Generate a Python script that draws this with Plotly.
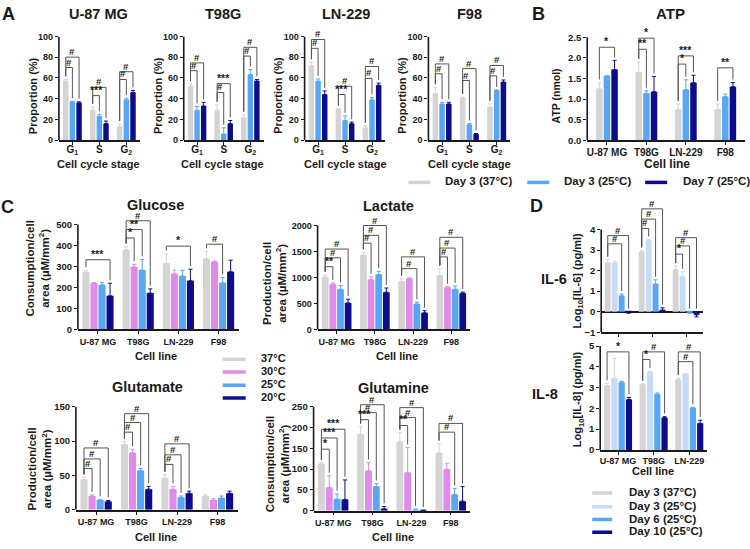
import plotly.graph_objects as go

W, H = 750, 549
FONT = "Liberation Sans, Arial, Helvetica, sans-serif"
INK = "#1a1a1a"

# ---------------- categories / series ----------------
stages = ["G<sub>1</sub>", "S", "G<sub>2</sub>"]
cell_lines = ["U-87 MG", "T98G", "LN-229", "F98"]
il_lines = ["U-87 MG", "T98G", "LN-229"]

ab_series = ["Day 3 (37°C)", "Day 3 (25°C)", "Day 7 (25°C)"]
c_series = ["37°C", "30°C", "25°C", "20°C"]
d_series = ["Day 3 (37°C)", "Day 3 (25°C)", "Day 6 (25°C)", "Day 10 (25°C)"]

ab_colors = ["#d4d4d4", "#58a6f6", "#0c0c8c"]
c_colors = ["#d4d4d4", "#e08ae9", "#58a6f6", "#0c0c8c"]
d_colors = ["#d4d4d4", "#c6dcf6", "#58a6f6", "#0c0c8c"]

# ---------------- Panel A: cell cycle proportion (%) [G1, S, G2] ----------------
u87_prop = [[57, 29, 13], [37, 23, 39], [36, 16, 46]]
u87_prop_err = [[1.5, 3, 2.5], [0.5, 2, 1.5], [1, 2.5, 2]]
t98g_prop = [[52, 29, 22], [29, 6, 63], [33, 16, 57]]
t98g_prop_err = [[2, 5, 2.5], [3.5, 6, 5], [3.5, 3, 1.5]]
ln229_prop = [[72, 30, 12], [57, 19, 39], [44, 16, 53]]
ln229_prop_err = [[3, 0.5, 2], [2, 4.5, 2], [3.5, 1.5, 2]]
f98_prop = [[45, 41, 32], [35, 15, 48], [35, 6, 56]]
f98_prop_err = [[6, 0.5, 3], [1.5, 1, 0.5], [1.5, 0.5, 2]]

# significance brackets: (group, bar_from, bar_to, level, label)
u87_sig = [(0, 0, 1, 70, "#"), (0, 0, 2, 80, "#"), (1, 0, 1, 43, "***"), (1, 0, 2, 51, "#"),
           (2, 0, 1, 58.5, "#"), (2, 0, 2, 66, "#")]
t98g_sig = [(0, 0, 1, 67, "#"), (0, 0, 2, 74.5, "#"), (1, 0, 1, 46, "#"), (1, 0, 2, 54.5, "***"),
            (2, 0, 1, 81, "#"), (2, 0, 2, 89.5, "#")]
ln229_sig = [(0, 0, 1, 88.5, "#"), (0, 0, 2, 97, "#"), (1, 0, 1, 44, "***"), (1, 0, 2, 52, "#"),
             (2, 0, 1, 59.5, "#"), (2, 0, 2, 71, "#")]
f98_sig = [(0, 0, 1, 64, "#"), (0, 0, 2, 73.5, "#"), (1, 0, 1, 57.5, "#"), (1, 0, 2, 69, "#"),
           (2, 0, 1, 62, "#"), (2, 0, 2, 72, "#")]

# ---------------- Panel B: ATP (nmol) ----------------
atp = [[1.25, 1.65, 0.75, 0.75], [1.56, 1.14, 1.23, 1.06], [1.72, 1.18, 1.40, 1.30]]
atp_err = [[0.15, 0.25, 0.13, 0.13], [0.01, 0.06, 0.24, 0.06], [0.22, 0.37, 0.18, 0.10]]
atp_sig = [(0, 0, 2, 2.26, "*"), (1, 0, 1, 2.21, "**"), (1, 0, 2, 2.48, "*"),
           (2, 0, 1, 1.85, "*"), (2, 0, 2, 2.05, "***"), (3, 0, 2, 1.76, "**")]

# ---------------- Panel C ----------------
glucose = [[272, 380, 315, 337], [220, 298, 265, 323], [212, 283, 255, 222], [160, 173, 232, 275]]
glucose_err = [[10, 15, 45, 35], [3, 12, 18, 3], [12, 50, 27, 25], [60, 20, 55, 55]]
glucose_sig = [(0, 0, 3, 332, "***"), (1, 0, 1, 436, "*"), (1, 0, 2, 476, "**"),
               (1, 0, 3, 518, "#"), (2, 0, 3, 397, "*"), (3, 0, 2, 406, "#")]

lactate = [[1010, 1434, 925, 1038], [868, 962, 981, 811], [774, 1057, 490, 774], [510, 717, 320, 698]]
lactate_err = [[40, 50, 50, 130], [25, 50, 10, 10], [70, 60, 30, 60], [70, 80, 40, 20]]
lactate_sig = [(0, 0, 1, 1207, "**"), (0, 0, 2, 1377, "#"), (0, 0, 3, 1547, "#"),
               (1, 0, 1, 1660, "#"), (1, 0, 2, 1811, "#"), (1, 0, 3, 2000, "#"),
               (2, 0, 2, 1170, "#"), (2, 0, 3, 1396, "#"),
               (3, 0, 1, 1396, "#"), (3, 0, 2, 1566, "#"), (3, 0, 3, 1773, "#")]

glutamate = [[44, 95, 46, 20], [20, 83, 30, 14], [14, 57, 18, 17], [12, 30, 24, 24]]
glutamate_err = [[3, 4, 5, 1.5], [1.5, 5, 4, 2], [1, 3, 2, 3], [1.5, 4, 3, 3]]
glutamate_sig = [(0, 0, 1, 60, "#"), (0, 0, 2, 74, "#"), (0, 0, 3, 90, "#"),
                 (1, 0, 1, 113, "#"), (1, 0, 2, 127, "#"), (1, 0, 3, 140, "#"),
                 (2, 0, 1, 66, "#"), (2, 0, 2, 80, "#"), (2, 0, 3, 96, "#")]

glutamine = [[113, 184, 166, 139], [56, 96, 92, 100], [28, 58, 2, 39], [27, 4, 0.5, 23]]
glutamine_err = [[2, 18, 22, 22], [28, 20, 60, 14], [12, 7, 2, 14], [47, 6, 0.5, 35]]
glutamine_sig = [(0, 0, 1, 148, "*"), (0, 0, 2, 175, "***"), (0, 0, 3, 196, "***"),
                 (1, 0, 1, 219, "***"), (1, 0, 2, 236, "#"), (1, 0, 3, 255, "#"),
                 (2, 0, 1, 205, "**"), (2, 0, 2, 224, "#"), (2, 0, 3, 248, "#"),
                 (3, 0, 2, 189, "#"), (3, 0, 3, 210, "#")]

# ---------------- Panel D: log10 cytokines ----------------
il6 = [[2.38, 2.90, 2.05], [2.38, 3.47, 1.72], [0.78, 1.35, -0.05], [-0.05, 0.07, -0.15]]
il6_err = [[0.15, 0.08, 0.18], [0.08, 0.04, 0.22], [0.08, 0.20, 0.03], [0.02, 0.12, 0.10]]
il6_sig = [(0, 0, 2, 3.3, "#"), (0, 0, 3, 3.7, "#"), (1, 0, 1, 4.05, "#"), (1, 0, 2, 4.5, "#"),
           (1, 0, 3, 5.0, "#"), (2, 0, 1, 2.8, "*"), (2, 0, 2, 3.2, "#"), (2, 0, 3, 3.6, "#")]

il8 = [[3.10, 3.15, 3.38], [3.45, 3.75, 3.65], [3.25, 2.68, 2.03], [2.43, 1.55, 1.28]]
il8_err = [[0.10, 0.03, 0.08], [0.95, 0.04, 0.03], [0.05, 0.06, 0.02], [0.10, 0.05, 0.15]]
il8_sig = [(0, 0, 3, 4.72, "*"), (1, 0, 1, 4.35, "*"), (1, 0, 3, 4.72, "#"),
           (2, 0, 2, 4.25, "#"), (2, 0, 3, 4.72, "#")]

# ---------------- helpers ----------------
fig = go.Figure()
axes_layout = {}
shapes = []
annotations = []
AXW = 1.6


def bold(size, color=INK):
    return dict(family=FONT, size=size, color=color, weight="bold")


def ann(xpx, ypx, text, size, angle=0, xanchor="center"):
    annotations.append(dict(xref="paper", yref="paper", x=xpx / W, y=1 - ypx / H, text=text,
                            showarrow=False, textangle=angle, xanchor=xanchor, yanchor="middle",
                            font=bold(size)))


def panel(idx, cats, vals, errs, colors, names, xpx, ypx, vscale, vtop, tickvals, bargap,
          groupgap, sig, xtick_size=9, ytick_size=9.5, tickformat=None, show_xlabels=True,
          zeroline=False, xstandoff=0):
    xa = "x" if idx == 1 else f"x{idx}"
    ya = "y" if idx == 1 else f"y{idx}"
    n = len(vals)
    slot = (1 - bargap) / n
    width = slot * (1 - groupgap)
    xs = list(range(len(cats)))
    for k in range(n):
        center = (k - (n - 1) / 2) * slot
        up = [e if v >= 0 else 0 for v, e in zip(vals[k], errs[k])]
        dn = [0 if v >= 0 else e for v, e in zip(vals[k], errs[k])]
        fig.add_trace(go.Bar(
            x=xs, y=vals[k], name=names[k], width=width, offset=center - width / 2,
            marker=dict(color=colors[k], line=dict(width=0)),
            error_y=dict(type="data", symmetric=False, array=up, arrayminus=dn,
                         color=colors[k], thickness=1, width=2),
            xaxis=xa, yaxis=ya, showlegend=False))
    v0, v1 = vscale
    py0, py1 = ypx
    s = (py0 - py1) / (v1 - v0)
    pytop = py0 - s * (vtop - v0)
    axes_layout["xaxis" if idx == 1 else f"xaxis{idx}"] = dict(
        domain=[xpx[0] / W, xpx[1] / W], anchor=ya, range=[-0.5, len(cats) - 0.5],
        tickmode="array", tickvals=xs, ticktext=cats, showticklabels=show_xlabels,
        showline=True, linecolor=INK, linewidth=AXW, ticks="outside", ticklen=3,
        tickwidth=1.3, tickcolor=INK, showgrid=False, zeroline=False,
        ticklabelstandoff=xstandoff, tickfont=bold(xtick_size))
    axes_layout["yaxis" if idx == 1 else f"yaxis{idx}"] = dict(
        domain=[1 - py0 / H, 1 - pytop / H], anchor=xa, range=[v0, vtop],
        tickmode="array", tickvals=tickvals, showline=False, ticks="outside", ticklen=3,
        tickwidth=1.3, tickcolor=INK, showgrid=False, zeroline=zeroline,
        zerolinecolor=INK, zerolinewidth=AXW, tickformat=tickformat,
        tickfont=bold(ytick_size))
    # y axis line limited to the tick span
    shapes.append(dict(type="line", xref=f"{xa} domain", yref=ya, x0=0, x1=0,
                       y0=v0, y1=tickvals[-1], line=dict(color=INK, width=AXW)))
    gap = 0.03 * (v1 - v0)

    def bar_x(g, k):
        return g + (k - (n - 1) / 2) * slot

    def bar_top(g, k):
        return max(vals[k][g], 0) + (errs[k][g] if vals[k][g] >= 0 else 0) + gap

    for g, i, j, h, lab in sig:
        x_i, x_j = bar_x(g, i), bar_x(g, j)
        y_i, y_j = bar_top(g, i), bar_top(g, j)
        shapes.append(dict(type="path", xref=xa, yref=ya,
                           path=f"M{x_i},{y_i} L{x_i},{h} L{x_j},{h} L{x_j},{y_j}",
                           line=dict(color="#555555", width=1)))
        annotations.append(dict(xref=xa, yref=ya, x=(x_i + x_j) / 2, y=h, text=lab,
                                showarrow=False, xanchor="center", yanchor="bottom",
                                yshift=-2, font=bold(9.5 if lab == "#" else 10.5)))


# ---------------- build panels ----------------
A_Y = (137, 31)
panel(1, stages, u87_prop, u87_prop_err, ab_colors, ab_series, (58, 139), A_Y, (0, 100), 100,
      [0, 20, 40, 60, 80, 100], 0.26, 0.18, u87_sig, xtick_size=10, ytick_size=9, xstandoff=-4)
panel(2, stages, t98g_prop, t98g_prop_err, ab_colors, ab_series, (183, 263), A_Y, (0, 100), 100,
      [0, 20, 40, 60, 80, 100], 0.26, 0.18, t98g_sig, xtick_size=10, ytick_size=9, xstandoff=-4)
panel(3, stages, ln229_prop, ln229_prop_err, ab_colors, ab_series, (304, 385), A_Y, (0, 100), 100,
      [0, 20, 40, 60, 80, 100], 0.26, 0.18, ln229_sig, xtick_size=10, ytick_size=9, xstandoff=-4)
panel(4, stages, f98_prop, f98_prop_err, ab_colors, ab_series, (428, 510), A_Y, (0, 100), 100,
      [0, 20, 40, 60, 80, 100], 0.26, 0.18, f98_sig, xtick_size=10, ytick_size=9, xstandoff=-4)
panel(5, cell_lines, atp, atp_err, ab_colors, ab_series, (587, 745), (137, 32), (0, 2.5), 2.52,
      [0, 0.5, 1.0, 1.5, 2.0, 2.5], 0.42, 0.15, atp_sig, xtick_size=10, ytick_size=9.5,
      tickformat=".1f", xstandoff=-1)
panel(6, cell_lines, glucose, glucose_err, c_colors, c_series, (77, 238), (330, 223), (0, 500), 530,
      [0, 100, 200, 300, 400, 500], 0.2, 0.12, glucose_sig)
panel(7, cell_lines, lactate, lactate_err, c_colors, c_series, (317, 470), (330, 224), (0, 2000), 2040,
      [0, 500, 1000, 1500, 2000], 0.2, 0.12, lactate_sig, ytick_size=9)
panel(8, cell_lines, glutamate, glutamate_err, c_colors, c_series, (75, 237), (514, 409), (0, 150), 150,
      [0, 50, 100, 150], 0.2, 0.12, glutamate_sig)
panel(9, cell_lines, glutamine, glutamine_err, c_colors, c_series, (313, 470), (515, 409), (0, 250), 262,
      [0, 50, 100, 150, 200, 250], 0.2, 0.12, glutamine_sig)
panel(10, il_lines, il6, il6_err, d_colors, d_series, (601, 703), (333, 228), (-1, 4), 5.1,
      [-1, 0, 1, 2, 3, 4], 0.18, 0.15, il6_sig, show_xlabels=False, zeroline=True)
panel(11, il_lines, il8, il8_err, d_colors, d_series, (600, 707), (453, 347), (0, 5), 5,
      [0, 1, 2, 3, 4, 5], 0.18, 0.15, il8_sig, xstandoff=-2)

# ---------------- text ----------------
ann(8, 8, "A", 18)
ann(538, 8, "B", 18)
ann(7, 205, "C", 18)
ann(536, 204, "D", 18)

for cx, title in zip([98, 222, 345, 469], ["U-87 MG", "T98G", "LN-229", "F98"]):
    ann(cx, 8, title, 14.5)
    ann(cx, 161, "Cell cycle stage", 11)
for ax_x in [58, 183, 304, 428]:
    ann(ax_x - 26, 91, "Proportion (%)", 11, angle=-90)

ann(670, 8, "ATP", 15)
ann(667, 161, "Cell line", 12)
ann(556, 92, "ATP (nmol)", 10.5, angle=-90)

ann(155, 203, "Glucose", 14.5)
ann(388, 204, "Lactate", 14.5)
ann(147, 389, "Glutamate", 14.5)
ann(393, 390, "Glutamine", 14.5)
for cx, cy in [(155, 357), (397, 357), (155, 542), (393, 542)]:
    ann(cx, cy, "Cell line", 11)
ann(37, 268, "Consumption/cell<br>area (µM/mm<sup>2</sup>)", 11.5, angle=-90)
ann(274, 283, "Production/cell<br>area (µM/mm<sup>2</sup>)", 11.5, angle=-90)
ann(39, 472, "Production/cell<br>area (µM/mm<sup>2</sup>)", 11.5, angle=-90)
ann(277, 468, "Consumption/cell<br>area (µM/mm<sup>2</sup>)", 11.5, angle=-90)

ann(554, 279, "IL-6", 14.5)
ann(545, 396, "IL-8", 14.5)
ann(578, 280, "Log<sub>10</sub>[IL-6] (pg/ml)", 11, angle=-90)
ann(578, 401, "Log<sub>10</sub>[IL-8] (pg/ml)", 11, angle=-90)
ann(653, 474, "Cell line", 11)

# ---------------- legends (line swatches) ----------------
def legend_item(x0, x1, ypx, color, label, tx, size):
    shapes.append(dict(type="line", xref="paper", yref="paper", x0=x0 / W, x1=x1 / W,
                       y0=1 - ypx / H, y1=1 - ypx / H, line=dict(color=color, width=3.5)))
    ann(tx, ypx - 1, label, size, xanchor="left")

for (x0, x1, tx), col, lab in zip([(408, 430, 443), (527, 549, 562), (645, 667, 681)],
                                  ab_colors, ab_series):
    legend_item(x0, x1, 180, col, lab, tx, 11.5)
for ypx, col, lab in zip([360.5, 373.5, 387, 400], c_colors, c_series):
    legend_item(222, 245, ypx, col, lab, 258, 11)
for ypx, col, lab in zip([497, 511, 524, 537], d_colors, d_series):
    legend_item(592, 612, ypx, col, lab, 627, 11.5)

fig.update_layout(
    width=W, height=H, autosize=False,
    margin=dict(l=0, r=0, t=0, b=0),
    paper_bgcolor="white", plot_bgcolor="white",
    barmode="overlay", showlegend=False,
    font=dict(family=FONT, color=INK),
    shapes=shapes, annotations=annotations,
    **axes_layout,
)

fig.write_html("out.html", config={"displayModeBar": False},
               post_script="document.body.style.margin='0';document.body.style.padding='0';"
                           "document.body.style.overflow='hidden';")
